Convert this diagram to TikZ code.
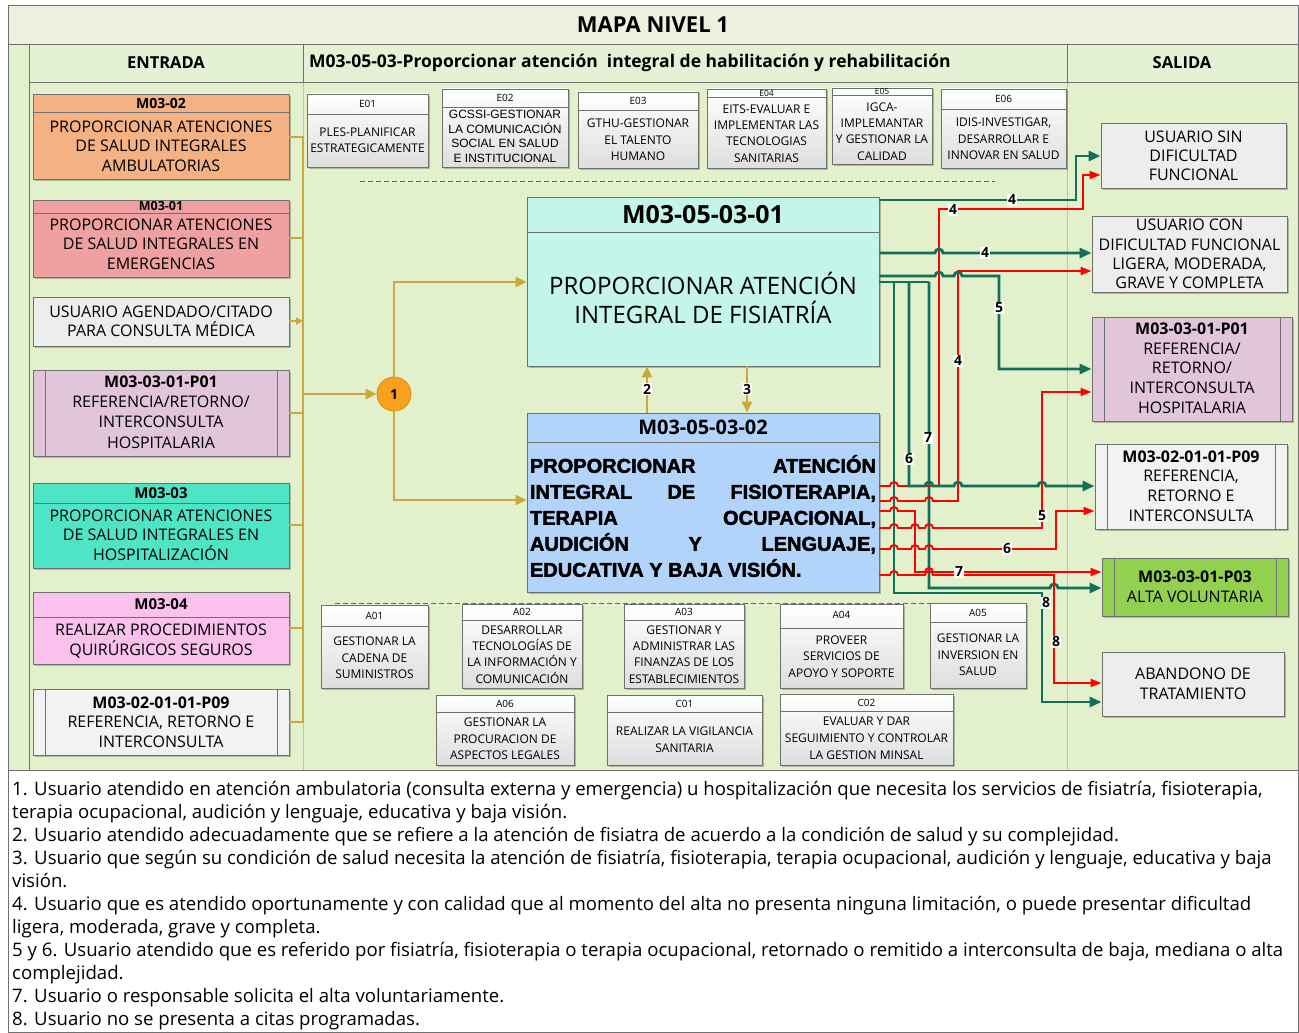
\documentclass[tikz,border=0pt]{standalone}
\usepackage{fontspec}
\setmainfont{Open Sans}
\newfontfamily\arialf{Liberation Sans}
\newfontfamily\heavyfont{Liberation Sans}[FakeBold=2.2]
\usetikzlibrary{arrows.meta,fit,shadows}
\definecolor{headF}{HTML}{EBF1DE}
\definecolor{rowF}{HTML}{E5F1D4}
\definecolor{bodyF}{HTML}{E2F0CB}
\definecolor{frmC}{HTML}{707070}
\definecolor{faintC}{HTML}{B9C6A8}
\definecolor{bordr}{HTML}{707070}
\definecolor{orangeF}{HTML}{F4B183}
\definecolor{redF}{HTML}{EFA0A0}
\definecolor{grayF}{HTML}{EDEDED}
\definecolor{purpleF}{HTML}{E1C6DB}
\definecolor{turqF}{HTML}{4EE5C6}
\definecolor{pinkF}{HTML}{F9C1EB}
\definecolor{lgrayF}{HTML}{F2F2F2}
\definecolor{m1F}{HTML}{C3F5E8}
\definecolor{m2F}{HTML}{B3D4FA}
\definecolor{altaF}{HTML}{92D050}
\definecolor{goldC}{HTML}{C9A83E}
\definecolor{grnC}{HTML}{12705A}
\definecolor{circF}{HTML}{F8A11E}
\definecolor{circD}{HTML}{E48A0C}
\newcommand\mkbox[6]{\node[fit={(#2,#3)(#4,#5)},inner sep=0pt,#6] (#1) {};}
\newcommand\hdr[2]{\draw[inl] (#1.west |- 0,#2) -- (#1.east |- 0,#2);}
\newcommand\ppl[3]{\draw[inl] (#2,0 |- #1.north) -- (#2,0 |- #1.south);\draw[inl] (#3,0 |- #1.north) -- (#3,0 |- #1.south);}
\newcommand\hp[2]{-- (#1-4,#2) arc[start angle=180,end angle=0,radius=4pt]}
\begin{document}
\begin{tikzpicture}[x=1pt,y=-1pt,
  box/.style={draw=bordr,line width=0.9pt,drop shadow={shadow xshift=1.5pt,shadow yshift=-1.5pt,opacity=0.35,fill=black!70}},
  gbox/.style={box,top color=white,bottom color=black!13},
  inl/.style={draw=bordr,line width=0.8pt},
  frm/.style={draw=frmC,line width=1pt},
  faint/.style={draw=faintC,line width=0.8pt},
  lt/.style={align=center,inner sep=0pt,font=\fontsize{16}{19.7}\selectfont},
  rt/.style={align=center,inner sep=0pt,font=\fontsize{16}{19.7}\selectfont},
  hb/.style={inner sep=0pt,font=\bfseries\fontsize{15}{16}\selectfont},
  et/.style={align=center,inner sep=0pt,font=\fontsize{12}{16.3}\selectfont},
  eh/.style={inner sep=0pt,font=\fontsize{10}{11}\selectfont},
  gold/.style={draw=goldC,line width=2.6pt},
  goldA/.style={gold,-{Triangle[length=11pt,width=10pt]}},
  gr/.style={draw=grnC,line width=2.8pt,-{Triangle[length=12pt,width=10pt]}},
  rd/.style={draw=red,line width=1.9pt,-{Triangle[length=11pt,width=8pt]}},
  lbl/.style={fill=white,inner sep=1.2pt,font=\bfseries\fontsize{14}{14}\selectfont},
  note/.style={anchor=base west,inner sep=0pt,font=\fontsize{18.6}{18.6}\selectfont}]
\useasboundingbox (0,0) rectangle (1299,1033);
\fill[white] (0,0) rectangle (1299,1033);
% frame
\fill[headF] (8,6) rectangle (1298,45);
\fill[bodyF] (8,45) rectangle (1298,770);
\fill[rowF] (29,45) rectangle (1298,83);
\draw[faint] (303,83) -- (303,770);
\draw[faint] (1067,83) -- (1067,770);
\draw[frm] (8,6) rectangle (1298,1032);
\draw[frm] (8,45) -- (1298,45);
\draw[frm] (29,83) -- (1298,83);
\draw[frm] (29,45) -- (29,770);
\draw[frm] (303,45) -- (303,83);
\draw[frm] (1067,45) -- (1067,83);
\draw[frm] (8,770) -- (1298,770);
\node[inner sep=0pt,font=\bfseries\fontsize{22}{22}\selectfont] (title) at (653,25) {MAPA NIVEL 1};
\node[inner sep=0pt,font=\bfseries\fontsize{16.5}{17}\selectfont] (hE) at (166,63) {ENTRADA};
\node[inner sep=0pt,anchor=west,font=\bfseries\fontsize{17.5}{17.5}\selectfont] (hM) at (309,63) {M03-05-03-Proporcionar atención\ \ integral de habilitación y rehabilitación};
\node[inner sep=0pt,font=\bfseries\fontsize{16.5}{17}\selectfont] (hS) at (1182,63) {SALIDA};
% dashed separators
\draw[draw=black!60,line width=0.8pt,dash pattern=on 5pt off 3pt] (360,181) -- (995,181);
\draw[draw=black!60,line width=0.8pt,dash pattern=on 5pt off 3pt] (335,603) -- (1000,603);
% left entries
\mkbox{L1}{33}{94}{289}{179}{box,fill=orangeF}
\hdr{L1}{112}
\node[hb,font=\bfseries\fontsize{14}{15}\selectfont] (L1h) at (L1.center |- 0,103) {M03-02};
\node[lt] (L1b) at (L1.center |- 0,146) {PROPORCIONAR ATENCIONES\\DE SALUD INTEGRALES\\AMBULATORIAS};
\mkbox{L2}{33}{200}{289}{277}{box,fill=redF}
\hdr{L2}{213}
\node[hb,font=\bfseries\fontsize{12.5}{13}\selectfont] (L2h) at (L2.center |- 0,206.5) {M03-01};
\node[lt] (L2b) at (L2.center |- 0,244) {PROPORCIONAR ATENCIONES\\DE SALUD INTEGRALES EN\\EMERGENCIAS};
\mkbox{L3}{33}{297}{289}{346}{box,fill=grayF}
\node[lt,font=\fontsize{16}{19}\selectfont] (L3b) at (L3.center) {USUARIO AGENDADO/CITADO\\PARA CONSULTA MÉDICA};
\mkbox{L4}{33}{370}{289}{456}{box,fill=purpleF}
\ppl{L4}{45}{277}
\node[lt,font=\fontsize{16}{20.3}\selectfont] (L4b) at (L4.center |- 0,412) {\textbf{M03-03-01-P01}\\REFERENCIA/RETORNO/\\INTERCONSULTA\\HOSPITALARIA};
\mkbox{L5}{33}{483}{289}{568}{box,fill=turqF}
\hdr{L5}{503}
\node[hb] (L5h) at (L5.center |- 0,493) {M03-03};
\node[lt] (L5b) at (L5.center |- 0,535) {PROPORCIONAR ATENCIONES\\DE SALUD INTEGRALES EN\\HOSPITALIZACIÓN};
\mkbox{L6}{33}{592}{289}{664}{box,fill=pinkF}
\hdr{L6}{617}
\node[hb] (L6h) at (L6.center |- 0,604.5) {M03-04};
\node[lt] (L6b) at (L6.center |- 0,641) {REALIZAR PROCEDIMIENTOS\\QUIRÚRGICOS SEGUROS};
\mkbox{L7}{33}{689}{289}{755}{box,fill=lgrayF}
\ppl{L7}{45}{277}
\node[lt,font=\fontsize{16}{19.5}\selectfont] (L7b) at (L7.center |- 0,722) {\textbf{M03-02-01-01-P09}\\REFERENCIA, RETORNO E\\INTERCONSULTA};
% strategic boxes
\mkbox{E01}{307}{94}{428}{167}{gbox}
\hdr{E01}{114}
\node[eh] (E01h) at (E01.center |- 0,104) {E01};
\node[et] (E01b) at (E01.center |- 0,140.5) {PLES-PLANIFICAR\\ESTRATEGICAMENTE};
\mkbox{E02}{442}{89}{568}{167}{gbox}
\hdr{E02}{107}
\node[eh] (E02h) at (E02.center |- 0,98) {E02};
\node[et,font=\arialf\fontsize{12}{14.7}\selectfont] (E02b) at (E02.center |- 0,136.5) {GCSSI-GESTIONAR\\LA COMUNICACIÓN\\SOCIAL EN SALUD\\E INSTITUCIONAL};
\mkbox{E03}{578}{92}{698}{168}{gbox}
\hdr{E03}{110}
\node[eh] (E03h) at (E03.center |- 0,101) {E03};
\node[et,font=\fontsize{12}{16.5}\selectfont] (E03b) at (E03.center |- 0,140) {GTHU-GESTIONAR\\EL TALENTO\\HUMANO};
\mkbox{E04}{707}{89}{826}{168}{gbox}
\hdr{E04}{97}
\node[eh,font=\fontsize{8.5}{9}\selectfont] (E04h) at (E04.center |- 0,93) {E04};
\node[et] (E04b) at (E04.center |- 0,133.5) {EITS-EVALUAR E\\IMPLEMENTAR LAS\\TECNOLOGIAS\\SANITARIAS};
\mkbox{E05}{832}{88}{932}{164}{gbox}
\hdr{E05}{95}
\node[eh,font=\fontsize{8.5}{9}\selectfont] (E05h) at (E05.center |- 0,91.5) {E05};
\node[et] (E05b) at (E05.center |- 0,131.5) {IGCA-\\IMPLEMANTAR\\Y GESTIONAR LA\\CALIDAD};
\mkbox{E06}{941}{89}{1066}{168}{gbox}
\hdr{E06}{109}
\node[eh] (E06h) at (E06.center |- 0,99) {E06};
\node[et,font=\fontsize{12}{16.5}\selectfont] (E06b) at (E06.center |- 0,139) {IDIS-INVESTIGAR,\\DESARROLLAR E\\INNOVAR EN SALUD};
% support boxes
\mkbox{A01}{321}{605}{428}{688}{gbox}
\hdr{A01}{626}
\node[eh] (A01h) at (A01.center |- 0,615.5) {A01};
\node[et] (A01b) at (A01.center |- 0,658) {GESTIONAR LA\\CADENA DE\\SUMINISTROS};
\mkbox{A02}{462}{604}{582}{688}{gbox}
\hdr{A02}{620}
\node[eh] (A02h) at (A02.center |- 0,612) {A02};
\node[et] (A02b) at (A02.center |- 0,654.5) {DESARROLLAR\\TECNOLOGÍAS DE\\LA INFORMACIÓN Y\\COMUNICACIÓN};
\mkbox{A03}{624}{604}{744}{688}{gbox}
\hdr{A03}{620}
\node[eh] (A03h) at (A03.center |- 0,612) {A03};
\node[et] (A03b) at (A03.center |- 0,654.5) {GESTIONAR Y\\ADMINISTRAR LAS\\FINANZAS DE LOS\\ESTABLECIMIENTOS};
\mkbox{A04}{780}{604}{903}{688}{gbox}
\hdr{A04}{628}
\node[eh] (A04h) at (A04.center |- 0,615) {A04};
\node[et] (A04b) at (A04.center |- 0,656.5) {PROVEER\\SERVICIOS DE\\APOYO Y SOPORTE};
\mkbox{A05}{930}{603}{1026}{688}{gbox}
\hdr{A05}{622}
\node[eh] (A05h) at (A05.center |- 0,612.5) {A05};
\node[et] (A05b) at (A05.center |- 0,655) {GESTIONAR LA\\INVERSION EN\\SALUD};
\mkbox{A06}{436}{695}{574}{765}{gbox}
\hdr{A06}{712}
\node[eh] (A06h) at (A06.center |- 0,703.5) {A06};
\node[et] (A06b) at (A06.center |- 0,739) {GESTIONAR LA\\PROCURACION DE\\ASPECTOS LEGALES};
\mkbox{C01}{607}{695}{762}{765}{gbox}
\hdr{C01}{712}
\node[eh] (C01h) at (C01.center |- 0,703.5) {C01};
\node[et,font=\fontsize{12}{17}\selectfont] (C01b) at (C01.center |- 0,740) {REALIZAR LA VIGILANCIA\\SANITARIA};
\mkbox{C02}{780}{694}{953}{765}{gbox}
\hdr{C02}{711}
\node[eh] (C02h) at (C02.center |- 0,702.5) {C02};
\node[et,font=\fontsize{12}{17}\selectfont] (C02b) at (C02.center |- 0,738) {EVALUAR Y DAR\\SEGUIMIENTO Y CONTROLAR\\LA GESTION MINSAL};
% main process boxes
\mkbox{M1}{527}{197}{879}{366}{box,fill=m1F}
\hdr{M1}{232}
\node[inner sep=0pt,font=\bfseries\fontsize{25}{26}\selectfont] (M1h) at (M1.center |- 0,214.5) {M03-05-03-01};
\node[inner sep=0pt,align=center,font=\fontsize{24}{29}\selectfont] (M1b) at (M1.center |- 0,298) {PROPORCIONAR ATENCIÓN\\INTEGRAL DE FISIATRÍA};
\mkbox{M2}{527}{413}{879}{592}{box,fill=m2F}
\hdr{M2}{442}
\node[inner sep=0pt,font=\bfseries\fontsize{20}{21}\selectfont] (M2h) at (M2.center |- 0,427.5) {M03-05-03-02};
\node[inner sep=0pt,align=left,font=\heavyfont\bfseries\fontsize{20}{26}\selectfont] (M2b) at (M2.center |- 0,516) {\hbox to 346pt{PROPORCIONAR\hfill ATENCIÓN}\\\hbox to 346pt{INTEGRAL\hfill DE\hfill FISIOTERAPIA,}\\\hbox to 346pt{TERAPIA\hfill OCUPACIONAL,}\\\hbox to 346pt{AUDICIÓN\hfill Y\hfill LENGUAJE,}\\\hbox to 346pt{EDUCATIVA Y BAJA VISIÓN.\hfill}};
% outputs
\mkbox{R1}{1101}{123}{1286}{188}{box,fill=grayF}
\node[rt,font=\fontsize{16}{19}\selectfont] (R1b) at (R1.center) {USUARIO SIN\\DIFICULTAD\\FUNCIONAL};
\mkbox{R2}{1092}{216}{1287}{292}{box,fill=grayF}
\node[rt,font=\fontsize{16}{19.3}\selectfont] (R2b) at (R2.center) {USUARIO CON\\DIFICULTAD FUNCIONAL\\LIGERA, MODERADA,\\GRAVE Y COMPLETA};
\mkbox{R3}{1092}{317}{1292}{421}{box,fill=purpleF}
\ppl{R3}{1104}{1280}
\node[rt] (R3b) at (R3.center |- 0,368) {\textbf{M03-03-01-P01}\\REFERENCIA/\\RETORNO/\\INTERCONSULTA\\HOSPITALARIA};
\mkbox{R4}{1095}{444}{1287}{529}{box,fill=lgrayF}
\ppl{R4}{1107}{1275}
\node[rt] (R4b) at (R4.center |- 0,486) {\textbf{M03-02-01-01-P09}\\REFERENCIA,\\RETORNO E\\INTERCONSULTA};
\mkbox{R5}{1102}{558}{1288}{616}{box,fill=altaF}
\ppl{R5}{1114}{1276}
\node[rt,font=\fontsize{16}{20}\selectfont] (R5b) at (R5.center |- 0,586.5) {\textbf{M03-03-01-P03}\\ALTA VOLUNTARIA};
\mkbox{R6}{1102}{652}{1284}{716}{box,fill=grayF}
\node[rt,font=\fontsize{16}{20}\selectfont] (R6b) at (R6.center) {ABANDONO DE\\TRATAMIENTO};
% circle and gold connectors
\node[circle,fill=circF,draw=circD,line width=0.8pt,minimum size=34pt,inner sep=0pt,font=\bfseries\fontsize{14}{14}\selectfont] (c1) at (394,394) {1};
\coordinate (bt) at (303,137);
\coordinate (bb) at (303,722);
\draw[gold] (L1.east |- bt) -- (bt) -- (bb) -- (L7.east |- bb);
\draw[gold] (L2.east |- 0,238) -- (bt |- 0,238);
\draw[gold,-{Triangle[length=7pt,width=7pt]}] (L3.east |- 0,321) -- (bt |- 0,321);
\draw[gold] (L4.east |- 0,413) -- (bt |- 0,413);
\draw[gold] (L5.east |- 0,525) -- (bt |- 0,525);
\draw[gold] (L6.east |- 0,628) -- (bt |- 0,628);
\draw[goldA] (bt |- c1) -- (c1.west);
\draw[goldA] (c1.north) |- (M1.west |- 0,282);
\draw[goldA] (c1.south) |- (M2.west |- 0,500);
\draw[goldA] (M2.north -| 647,0) -- (M1.south -| 647,0);
\draw[goldA] (M1.south -| 747,0) -- (M2.north -| 747,0);
\node[lbl] (l2) at (647,389) {2};
\node[lbl] (l3) at (747,389) {3};
% green lines crossed by red ones
\draw[gr,-] (M1.east |- 0,282) -- (929,282);
\draw[gr] (894,282) -- (894,593) -- (1042,593) -- (1042,702) -- (R6.west |- 0,702);
\draw[gr] (929,282) -- (929,588) \hp{1054}{588} -- (R5.west |- 0,588);
% red connectors
\draw[rd] (M2.east |- 0,486) \hp{894}{486} -- (939,486) -- (939,209) -- (1083,209) -- (1083,175) -- (R1.west |- 0,175);
\draw[rd] (M2.east |- 0,501) \hp{894}{501} \hp{929}{501} -- (958,501) -- (958,271) -- (R2.west |- 0,271);
\draw[rd] (M2.east |- 0,511) \hp{894}{511} -- (915,511) -- (915,572) \hp{929}{572} -- (R5.west |- 0,572);
\draw[rd] (M2.east |- 0,528) \hp{894}{528} \hp{915}{528} \hp{929}{528} -- (1042,528) -- (1042,392) -- (R3.west |- 0,392);
\draw[rd] (M2.east |- 0,549) \hp{894}{549} \hp{915}{549} \hp{929}{549} -- (1056,549) -- (1056,511) -- (R4.west |- 0,511);
\draw[rd] (M2.east |- 0,575) \hp{894}{575} \hp{929}{575} -- (1054,575) -- (1054,683) -- (R6.west |- 0,683);
% green connectors over red ones
\draw[gr] (M1.east |- 0,200) -- (1076,200) -- (1076,156) -- (R1.west |- 0,156);
\draw[gr] (M1.east |- 0,253) \hp{939}{253} -- (R2.west |- 0,253);
\draw[gr] (M1.east |- 0,276) \hp{939}{276} \hp{958}{276} -- (999,276) -- (999,369) -- (R3.west |- 0,369);
\draw[gr] (909,282) -- (909,486) \hp{929}{486} \hp{958}{486} \hp{1042}{486} -- (R4.west |- 0,486);
% labels
\node[lbl] (k1) at (1012,200) {4};
\node[lbl] (k2) at (953,210) {4};
\node[lbl] (k3) at (985,253) {4};
\node[lbl] (k4) at (958,361) {4};
\node[lbl] (k5) at (999,308) {5};
\node[lbl] (k6) at (909,459) {6};
\node[lbl] (k7) at (928,438) {7};
\node[lbl] (k8) at (1042,516) {5};
\node[lbl] (k9) at (1007,549) {6};
\node[lbl] (k10) at (959,572) {7};
\node[lbl] (k11) at (1046,603) {8};
\node[lbl] (k12) at (1056,642) {8};
% notes
\node[note] (n1) at (12,795) {1. Usuario atendido en atención ambulatoria (consulta externa y emergencia) u hospitalización que necesita los servicios de fisiatría, fisioterapia,};
\node[note] (n2) at (12,818) {terapia ocupacional, audición y lenguaje, educativa y baja visión.};
\node[note] (n3) at (12,841) {2. Usuario atendido adecuadamente que se refiere a la atención de fisiatra de acuerdo a la condición de salud y su complejidad.};
\node[note] (n4) at (12,864) {3. Usuario que según su condición de salud necesita la atención de fisiatría, fisioterapia, terapia ocupacional, audición y lenguaje, educativa y baja};
\node[note] (n5) at (12,887) {visión.};
\node[note] (n6) at (12,910) {4. Usuario que es atendido oportunamente y con calidad que al momento del alta no presenta ninguna limitación, o puede presentar dificultad};
\node[note] (n7) at (12,933) {ligera, moderada, grave y completa.};
\node[note] (n8) at (12,956) {5 y 6. Usuario atendido que es referido por fisiatría, fisioterapia o terapia ocupacional, retornado o remitido a interconsulta de baja, mediana o alta};
\node[note] (n9) at (12,979) {complejidad.};
\node[note] (n10) at (12,1002) {7. Usuario o responsable solicita el alta voluntariamente.};
\node[note] (n11) at (12,1025) {8. Usuario no se presenta a citas programadas.};
\end{tikzpicture}
\end{document}
